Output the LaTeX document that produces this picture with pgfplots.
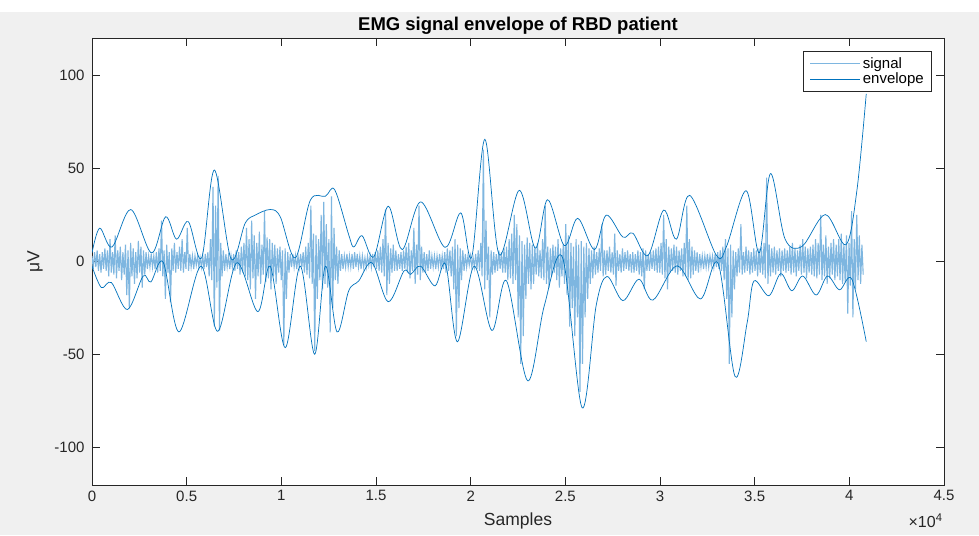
\documentclass[border=0pt]{standalone}
\usepackage{fontspec}
\setmainfont{Liberation Sans}
\usepackage{pgfplots}
\pgfplotsset{compat=1.18}
\definecolor{figgray}{RGB}{240,240,240}
\definecolor{sigcol}{RGB}{126,182,224}
\definecolor{envcol}{RGB}{0,114,189}
\definecolor{axcol}{RGB}{38,38,38}
\begin{document}
\begin{tikzpicture}[x=1pt,y=1pt]
\useasboundingbox (0,0) rectangle (979,535);
\fill[figgray] (0,0) rectangle (979,535);
\fill[white] (0,523) rectangle (979,535);
\begin{axis}[
  at={(92pt,50pt)}, anchor=south west,
  width=852pt, height=447pt, scale only axis,
  axis background/.style={fill=white},
  xmin=0, xmax=45000, ymin=-120, ymax=120,
  xtick={0,5000,10000,15000,20000,25000,30000,35000,40000,45000},
  xticklabels={0,0.5,1,1.5,2,2.5,3,3.5,4,4.5},
  ytick={-100,-50,0,50,100},
  yticklabels={-100,-50,0,50,100},
  scaled x ticks=false, scaled y ticks=false,
  tick align=inside, tick pos=both, major tick length=8pt,
  axis line style={axcol, line width=0.6pt},
  every tick/.style={axcol, line width=0.6pt},
  tick label style={font=\fontsize{15}{17}\selectfont, text=axcol},
  xticklabel style={yshift=-2pt},
  yticklabel style={xshift=-4pt},
  every axis title shift=0pt,
  title={\bfseries EMG signal envelope of RBD patient},
  title style={at={([yshift=12pt]rel axis cs:0.5,1)}, anchor=center, font=\fontsize{18.5}{20}\selectfont},
  xlabel={Samples},
  xlabel style={at={([yshift=-36pt]rel axis cs:0.5,0)}, anchor=center, font=\fontsize{17.5}{19}\selectfont, text=axcol},
  ylabel={μV},
  ylabel style={at={([xshift=-57pt]rel axis cs:0,0.5)}, anchor=center, font=\fontsize{17.5}{19}\selectfont, text=axcol},
  legend style={at={([xshift=-12pt,yshift=-13pt]rel axis cs:1,1)}, anchor=north east,
    draw=axcol, line width=0.6pt, font=\fontsize{15}{17}\selectfont, inner xsep=6pt, inner ysep=4pt,
    row sep=-1pt, cells={anchor=west}},
  legend image code/.code={\draw[#1] (0pt,0pt) -- (50pt,0pt);},
]
\addplot[sigcol, line width=1.1pt] table[header=false, row sep=\\, x expr=\coordindex*68, y index=0] {
3\\-4\\5\\-3\\6\\-5\\4\\-6\\5\\-4\\7\\-5\\6\\-8\\12\\-6\\5\\-7\\14\\-9\\
6\\-5\\8\\-10\\5\\-7\\9\\-18\\6\\-25\\10\\-8\\7\\-12\\5\\-9\\11\\-6\\8\\-14\\
6\\-7\\5\\-4\\3\\-3\\4\\-3\\3\\-4\\5\\-6\\7\\-5\\22\\-8\\6\\-20\\9\\-6\\
5\\-22\\7\\-5\\10\\-6\\5\\-4\\8\\-5\\12\\-6\\5\\-4\\18\\-5\\4\\-3\\3\\-4\\
3\\-2\\3\\-3\\2\\-3\\3\\-4\\4\\-3\\5\\-8\\12\\-10\\40\\-35\\30\\-14\\46\\-37\\
10\\-8\\6\\-5\\4\\-3\\3\\-4\\3\\-3\\4\\-5\\6\\-4\\5\\-7\\8\\-6\\10\\-8\\
18\\-10\\12\\-15\\22\\-9\\14\\-20\\10\\-8\\16\\-12\\9\\-7\\27\\-11\\13\\-9\\12\\-15\\
10\\-8\\9\\-12\\7\\-6\\8\\-10\\6\\-45\\7\\-20\\5\\-6\\4\\-3\\4\\-3\\3\\-4\\
3\\-3\\4\\-3\\5\\-6\\8\\-7\\10\\-9\\30\\-12\\15\\-48\\14\\-20\\12\\-10\\25\\-15\\
32\\-12\\20\\-14\\12\\-38\\35\\-25\\18\\-10\\8\\-12\\6\\-5\\4\\-4\\3\\-3\\4\\-3\\
3\\-3\\4\\-4\\5\\-3\\4\\-3\\3\\-4\\3\\-3\\2\\-3\\3\\-2\\3\\-3\\4\\-3\\
5\\-4\\6\\-5\\8\\-6\\12\\-8\\28\\-18\\10\\-12\\7\\-6\\9\\-5\\6\\-5\\4\\-4\\
5\\-5\\6\\-4\\8\\-6\\10\\-9\\6\\-5\\18\\-12\\9\\-7\\30\\-10\\8\\-6\\5\\-6\\
4\\-5\\6\\-4\\3\\-3\\3\\-4\\3\\-3\\4\\-3\\3\\-4\\5\\-6\\7\\-5\\6\\-8\\
8\\-15\\12\\-40\\9\\-25\\7\\-10\\6\\-5\\4\\-3\\3\\-2\\3\\-3\\2\\-3\\4\\-4\\
6\\-5\\10\\-8\\60\\-15\\22\\-10\\8\\-30\\6\\-7\\5\\-6\\4\\-5\\6\\-4\\5\\-6\\
7\\-6\\8\\-10\\12\\-9\\15\\-12\\25\\-10\\20\\-30\\14\\-55\\11\\-40\\9\\-20\\13\\-12\\
10\\-15\\9\\-12\\8\\-7\\10\\-8\\6\\-9\\12\\-10\\30\\-12\\8\\-14\\7\\-8\\9\\-6\\
8\\-10\\12\\-14\\7\\-8\\9\\-12\\20\\-18\\14\\-35\\10\\-25\\8\\-40\\12\\-30\\9\\-70\\
11\\-55\\8\\-30\\10\\-20\\7\\-12\\6\\-9\\8\\-7\\5\\-6\\7\\-5\\20\\-8\\6\\-7\\
6\\-5\\8\\-6\\5\\-7\\15\\-13\\6\\-5\\4\\-6\\7\\-5\\5\\-4\\6\\-5\\4\\-6\\
5\\-6\\4\\-5\\6\\-7\\5\\-8\\7\\-15\\6\\-5\\4\\-5\\5\\-4\\6\\-5\\7\\-6\\
8\\-6\\10\\-7\\25\\-9\\12\\-15\\8\\-6\\7\\-5\\9\\-6\\8\\-7\\6\\-5\\7\\-8\\
10\\-8\\30\\-10\\12\\-9\\8\\-7\\6\\-5\\5\\-6\\4\\-3\\3\\-4\\3\\-3\\4\\-3\\
3\\-2\\3\\-3\\4\\-3\\5\\-4\\6\\-5\\8\\-10\\12\\-20\\7\\-55\\9\\-30\\6\\-15\\
5\\-8\\7\\-6\\20\\-7\\5\\-6\\8\\-5\\6\\-7\\5\\-6\\7\\-5\\6\\-8\\7\\-6\\
8\\-7\\10\\-9\\45\\-12\\9\\-8\\7\\-6\\8\\-7\\6\\-5\\7\\-8\\6\\-5\\7\\-6\\
6\\-5\\8\\-7\\10\\-6\\7\\-8\\6\\-5\\9\\-7\\12\\-6\\8\\-9\\7\\-6\\8\\-7\\
9\\-8\\12\\-9\\10\\-7\\25\\-10\\9\\-8\\14\\-12\\8\\-9\\10\\-7\\12\\-10\\9\\-8\\
12\\-10\\15\\-12\\9\\-11\\14\\-28\\10\\-13\\27\\-30\\12\\-15\\25\\-10\\14\\-12\\9\\-7\\
};
\addlegendentry{signal}
\addplot[envcol, line width=0.7pt, smooth, tension=0.55] coordinates {
(0,4.6)(406,17.9)(1060,7.8)(2048,27.9)(3143,4.6)(3885,24.0)(4467,12.0)(5085,21.4)(5790,1.9)(6462,49.1)(7346,1.4)(8088,20.5)(8618,24.9)(9413,27.9)(9943,24.0)(10737,1.9)(11532,32.9)(12326,35.0)(12819,38.5)(13560,14.3)(13825,7.8)(14266,13.8)(14885,2.5)(15643,29.7)(16384,6.4)(17358,32.0)(18645,7.6)(19476,26.1)(20058,2.5)(20748,65.6)(21506,3.7)(22565,38.2)(23413,7.2)(24065,33.2)(24949,8.5)(25655,23.2)(26539,6.4)(27157,24.9)(28039,13.1)(28568,15.2)(29363,3.2)(30194,27.6)(30866,12.0)(31570,35.5)(32984,3.2)(33513,8.1)(34550,38.0)(35242,4.6)(35835,47.2)(36600,12.2)(37500,8.1)(38730,25.2)(39820,9.0)(40400,38.2)(40893,90.0)
};
\addlegendentry{envelope}
\addplot[envcol, line width=0.7pt, smooth, tension=0.55, forget plot] coordinates {
(0,-2.5)(494,-14.0)(1022,-11.3)(1871,-25.8)(2701,-7.8)(3108,-11.0)(3761,-0.4)(4591,-37.8)(5757,-2.5)(6638,-37.5)(7645,-0.7)(8756,-26.9)(9413,-2.5)(10207,-46.3)(11002,-2.5)(11759,-49.8)(12326,-2.5)(12941,-37.8)(13560,-15.7)(14090,-10.4)(14795,-0.7)(15643,-21.6)(16474,-5.1)(16829,-6.9)(17358,-2.5)(18115,-13.1)(18683,-1.6)(19299,-43.1)(20182,-2.5)(21119,-37.0)(21894,-10.4)(23006,-64.0)(23890,-23.7)(24860,1.9)(25885,-78.5)(26627,-23.7)(27200,-8.0)(28039,-21.0)(28886,-9.5)(29628,-20.7)(30900,-2.3)(32137,-20.1)(33071,-1.1)(33962,-61.7)(34600,-33.0)(34960,-10.5)(35750,-18.4)(36376,-6.5)(36960,-15.7)(37540,-7.8)(38245,-18.0)(38845,-7.8)(39480,-15.2)(40133,-9.5)(40893,-43.0)
};
\end{axis}
\node[anchor=base east, text=axcol, font=\fontsize{16}{18}\selectfont] at (946,7) {×10\textsuperscript{4}};
\end{tikzpicture}
\end{document}
